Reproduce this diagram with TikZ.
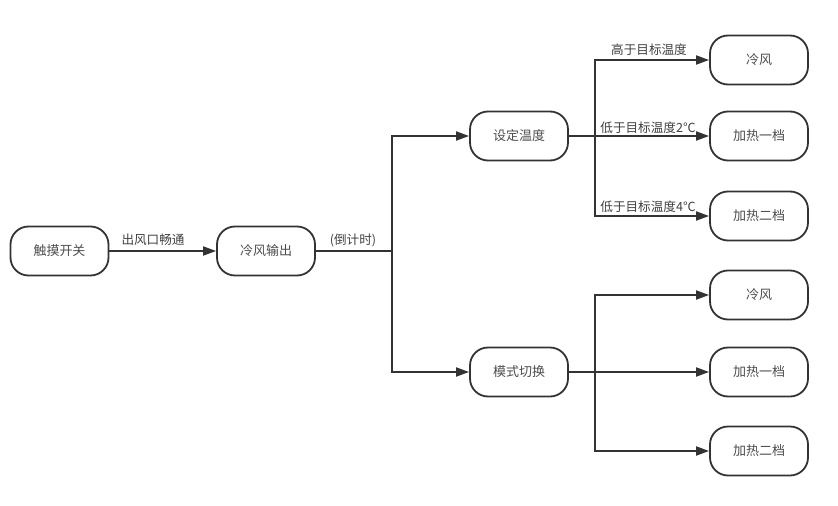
\documentclass[tikz,border=0pt]{standalone}
\usepackage{fontspec}
\setmainfont{Noto Sans CJK SC}
\usepackage{tikz}
\usetikzlibrary{arrows.meta}

\begin{document}
\begin{tikzpicture}[
    x=1pt, y=-1pt,
    box/.style={draw=black!80, line width=1.8pt, rounded corners=18pt,
        minimum width=98pt, minimum height=49pt, font=\fontsize{13}{15}\selectfont,
        text=black!70, inner sep=0pt},
    link/.style={draw=black!80, line width=1.8pt},
    arrow/.style={link, -{Triangle[length=13pt,width=9pt]}},
    tag/.style={font=\fontsize{12.6}{14}\selectfont, text=black!75, inner sep=0pt}
]
    \useasboundingbox (0,0) rectangle (838,506);

    % Main chain
    \node[box] (touch) at (59.5,251) {触摸开关};
    \node[box] (cool) at (266,251) {冷风输出};
    \node[box] (temp) at (519,136) {设定温度};
    \node[box] (mode) at (519,372) {模式切换};

    % Outputs for temperature
    \node[box] (t1) at (759,60) {冷风};
    \node[box] (t2) at (759,136) {加热一档};
    \node[box] (t3) at (759,216) {加热二档};

    % Outputs for mode switch
    \node[box] (m1) at (759,295) {冷风};
    \node[box] (m2) at (759,372) {加热一档};
    \node[box] (m3) at (759,451) {加热二档};

    % Branch points
    \coordinate (b1) at (392,251);
    \coordinate (b2) at (595,136);
    \coordinate (b3) at (595,372);

    % Connectors
    \draw[arrow] (touch) -- (cool);
    \draw[link] (cool) -- (b1);
    \draw[arrow] (b1) |- (temp);
    \draw[arrow] (b1) |- (mode);

    \draw[link] (temp) -- (b2);
    \draw[arrow] (b2) |- (t1);
    \draw[arrow] (b2) -- (t2);
    \draw[arrow] (b2) |- (t3);

    \draw[link] (mode) -- (b3);
    \draw[arrow] (b3) |- (m1);
    \draw[arrow] (b3) -- (m2);
    \draw[arrow] (b3) |- (m3);

    % Labels
    \node[tag] (l1) at (153,240) {出风口畅通};
    \node[tag] (l2) at (353,240) {(倒计时)};
    \node[tag] (l3) at (649,50) {高于目标温度};
    \node[tag] (l4) at (648,128) {低于目标温度2℃};
    \node[tag] (l5) at (648,207) {低于目标温度4℃};
\end{tikzpicture}
\end{document}
